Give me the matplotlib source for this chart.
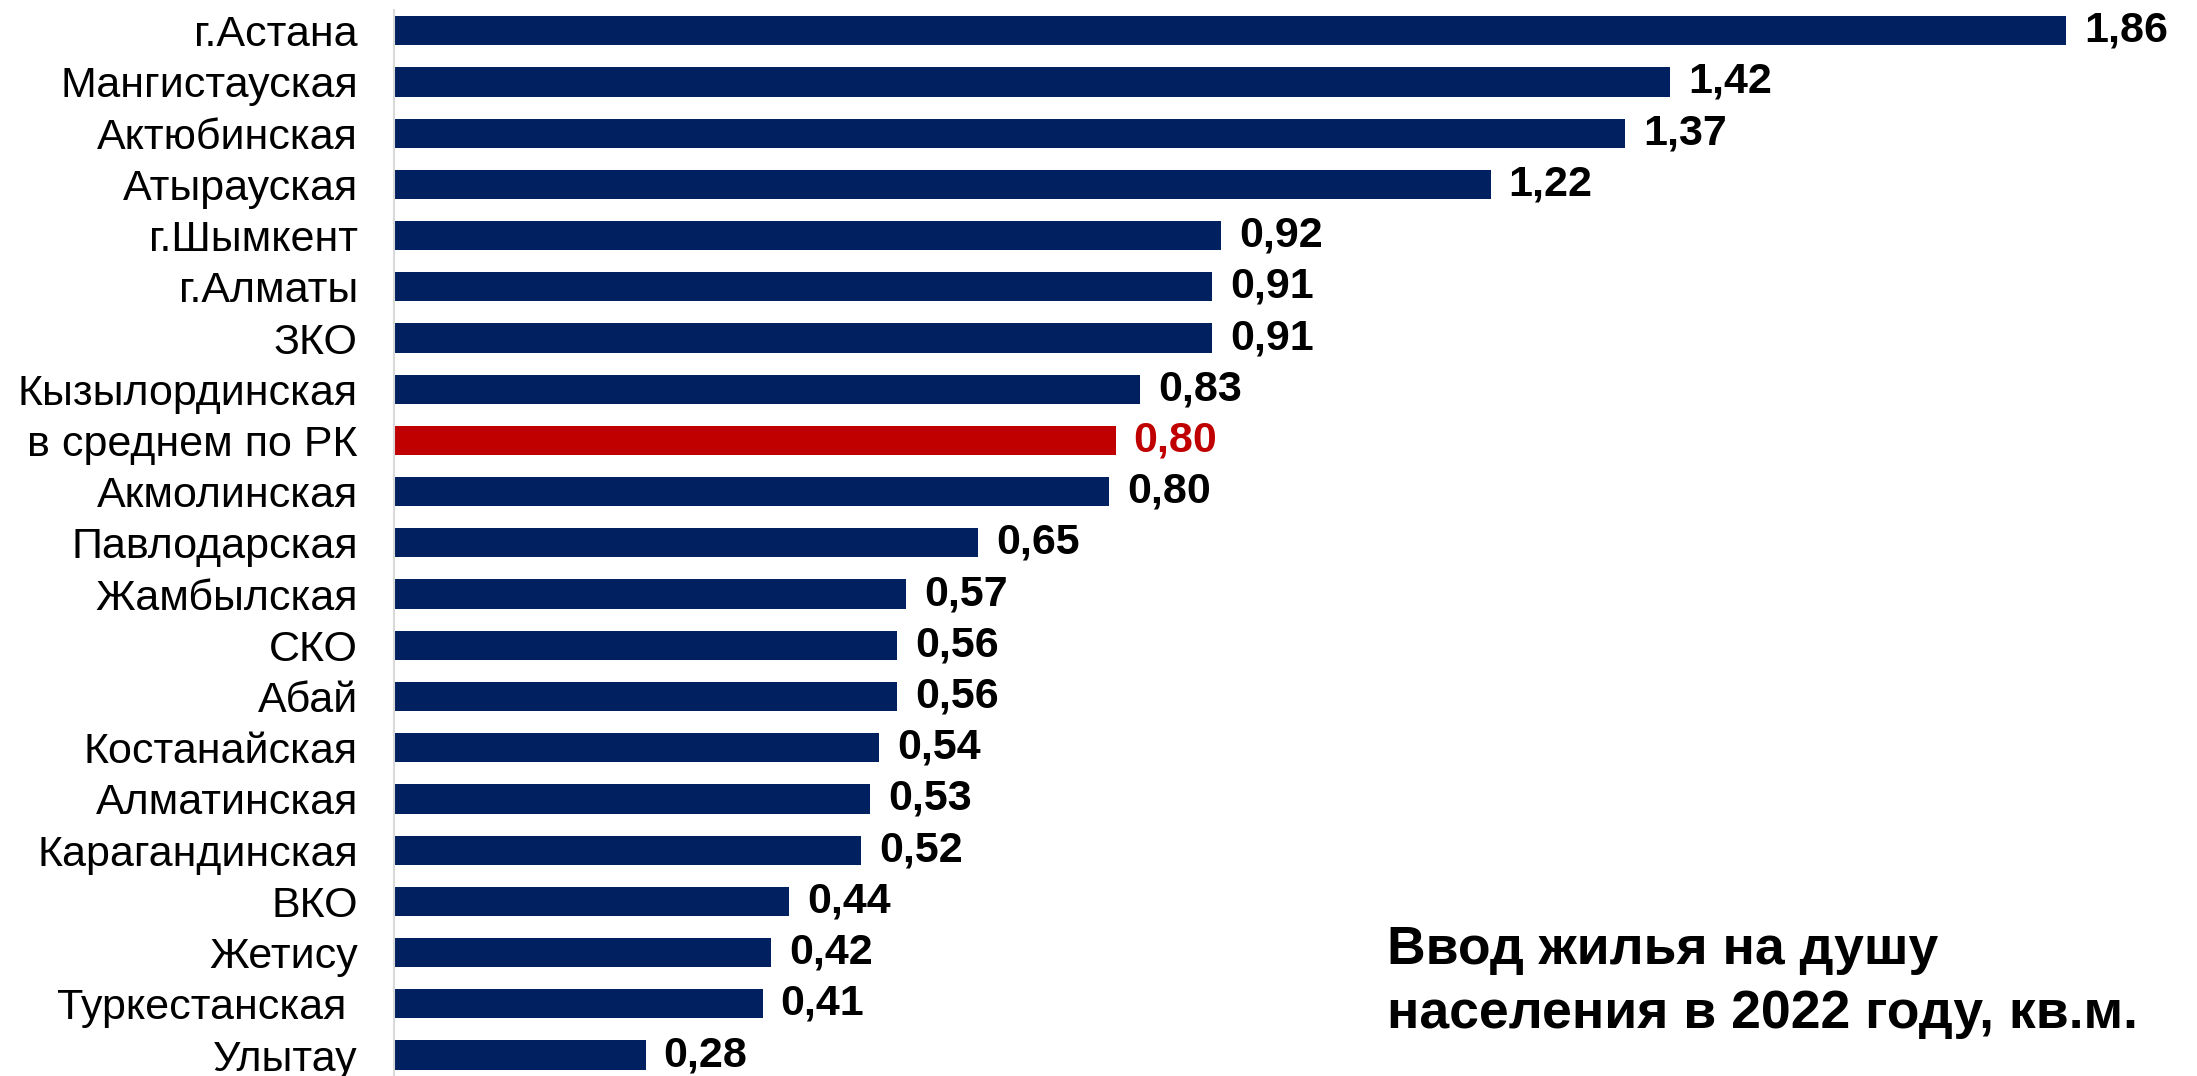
import matplotlib.pyplot as plt

regions = ['г.Астана', 'Мангистауская', 'Актюбинская', 'Атырауская', 'г.Шымкент',
           'г.Алматы', 'ЗКО', 'Кызылординская', 'в среднем по РК', 'Акмолинская',
           'Павлодарская', 'Жамбылская', 'СКО', 'Абай', 'Костанайская',
           'Алматинская', 'Карагандинская', 'ВКО', 'Жетису', 'Туркестанская ',
           'Улытау']
values = [1.86, 1.42, 1.37, 1.22, 0.92, 0.91, 0.91, 0.83, 0.803, 0.796,
          0.65, 0.57, 0.56, 0.56, 0.54, 0.53, 0.52, 0.44, 0.42, 0.41, 0.28]
highlight = 'в среднем по РК'
title = 'Ввод жилья на душу\nнаселения в 2022 году, кв.м.'

navy = '#002060'
red = '#C00000'

plt.rcParams['font.family'] = ['Liberation Sans', 'DejaVu Sans']

fig = plt.figure(figsize=(21.97, 10.76), dpi=100)
ax = fig.add_axes([394 / 2197, 0, 1 - 394 / 2197, 1])

pos = list(range(len(regions)))
colors = [red if r == highlight else navy for r in regions]
ax.barh(pos, values, height=0.57, color=colors)

for p, v, c in zip(pos, values, colors):
    txt_col = red if c == red else 'black'
    ax.text(v + 0.02, p, f'{v:.2f}'.replace('.', ','), va='center', ha='left',
            fontsize=31, fontweight='bold', color=txt_col)

ax.set_yticks(pos)
ax.set_yticklabels(regions, fontsize=31)
ax.tick_params(axis='y', length=0, pad=26)
ax.set_xticks([])
ax.set_xlim(0, 2.006)
ax.set_ylim(20.41, -0.6)

for s in ['top', 'right', 'bottom']:
    ax.spines[s].set_visible(False)
ax.spines['left'].set_color('#d9d9d9')
ax.spines['left'].set_linewidth(1.5)
ax.spines['left'].set_bounds(20.41, -0.4)

fig.text(1387 / 2197, 1 - 982 / 1076, title, fontsize=38.5, fontweight='bold',
         ha='left', va='center', linespacing=1.38)

fig.savefig('out.png', dpi=100)
